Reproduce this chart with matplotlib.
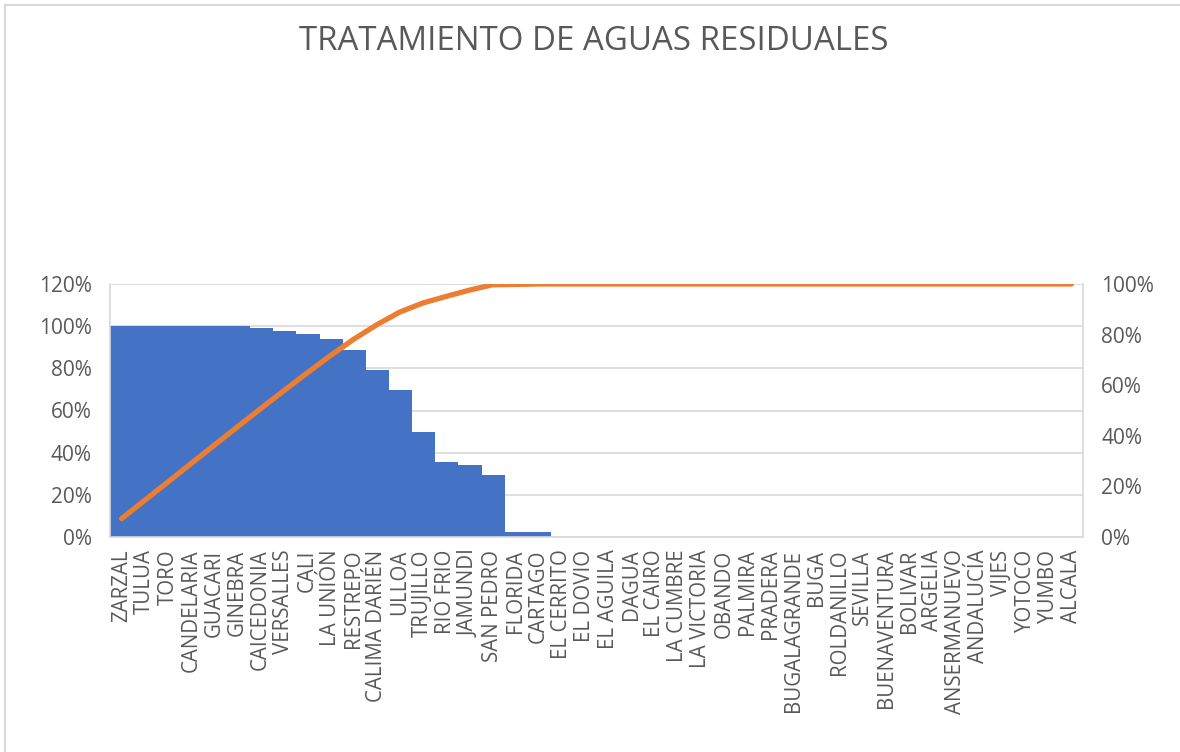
import numpy as np
import matplotlib.pyplot as plt
from matplotlib.ticker import PercentFormatter
from matplotlib.lines import Line2D

plt.rcParams['font.family'] = ['Open Sans', 'DejaVu Sans']

# municipios y porcentaje de tratamiento de aguas residuales
municipios = ['ZARZAL', 'TULUA', 'TORO', 'CANDELARIA', 'GUACARI', 'GINEBRA',
              'CAICEDONIA', 'VERSALLES', 'CALI', 'LA UNIÓN', 'RESTREPO',
              'CALIMA DARIÉN', 'ULLOA', 'TRUJILLO', 'RIO FRIO', 'JAMUNDI',
              'SAN PEDRO', 'FLORIDA', 'CARTAGO', 'EL CERRITO', 'EL DOVIO',
              'EL AGUILA', 'DAGUA', 'EL CAIRO', 'LA CUMBRE', 'LA VICTORIA',
              'OBANDO', 'PALMIRA', 'PRADERA', 'BUGALAGRANDE', 'BUGA',
              'ROLDANILLO', 'SEVILLA', 'BUENAVENTURA', 'BOLIVAR', 'ARGELIA',
              'ANSERMANUEVO', 'ANDALUCÍA', 'VIJES', 'YOTOCO', 'YUMBO', 'ALCALA']
tratamiento = [1.00, 1.00, 1.00, 1.00, 1.00, 1.00,
               0.989, 0.975, 0.965, 0.937, 0.889,
               0.794, 0.698, 0.498, 0.356, 0.341,
               0.295, 0.022, 0.022, 0, 0,
               0, 0, 0, 0, 0,
               0, 0, 0, 0, 0,
               0, 0, 0, 0, 0,
               0, 0, 0, 0, 0, 0]

# acumulado para la curva de pareto
acumulado = np.cumsum(tratamiento) / np.sum(tratamiento)

gris = '#595959'
fig = plt.figure(figsize=(11.8, 7.52), dpi=100)

# borde del area del grafico
fig.add_artist(Line2D([5 / 1180, 5 / 1180], [0, 1 - 5 / 752],
                      transform=fig.transFigure, color='#d9d9d9', lw=1.5))
fig.add_artist(Line2D([5 / 1180, 1], [1 - 5 / 752, 1 - 5 / 752],
                      transform=fig.transFigure, color='#d9d9d9', lw=1.5))

ax = fig.add_axes([110 / 1180, 1 - 537 / 752, 973 / 1180, 253 / 752])
x = np.arange(len(municipios))
ax.bar(x, tratamiento, width=1.0, color='#4472c4', edgecolor='#4472c4',
       linewidth=0.6, antialiased=False, zorder=2)
ax.set_xlim(-0.5, len(municipios) - 0.5)
ax.set_ylim(0, 1.2)
ax.set_yticks(np.arange(0, 1.21, 0.2))
ax.yaxis.set_major_formatter(PercentFormatter(1.0, decimals=0))
ax.grid(axis='y', color='#d9d9d9', lw=1.2, zorder=0)
ax.set_xticks(x)
ax.set_xticklabels(municipios, rotation=90, fontsize=14.8, color=gris)
ax.tick_params(axis='both', length=0, pad=9)
ax.tick_params(axis='y', labelsize=15, labelcolor=gris, pad=13)
ax.spines['top'].set_visible(False)
for s in ['left', 'bottom', 'right']:
    ax.spines[s].set_color('#d9d9d9')
    ax.spines[s].set_linewidth(1.2)

ax2 = ax.twinx()
ax2.plot(x, acumulado, color='#ed7d31', lw=3.8, solid_capstyle='round', zorder=3)
ax2.set_ylim(0, 1.0)
ax2.set_yticks(np.arange(0, 1.01, 0.2))
ax2.yaxis.set_major_formatter(PercentFormatter(1.0, decimals=0))
ax2.tick_params(axis='y', length=0, labelsize=15, labelcolor=gris, pad=13)
for s in ax2.spines.values():
    s.set_visible(False)

fig.text(0.503, 1 - 42 / 752, 'TRATAMIENTO DE AGUAS RESIDUALES', ha='center',
         va='center', fontsize=23.8, color=gris)

fig.savefig('out.png', dpi=100)
